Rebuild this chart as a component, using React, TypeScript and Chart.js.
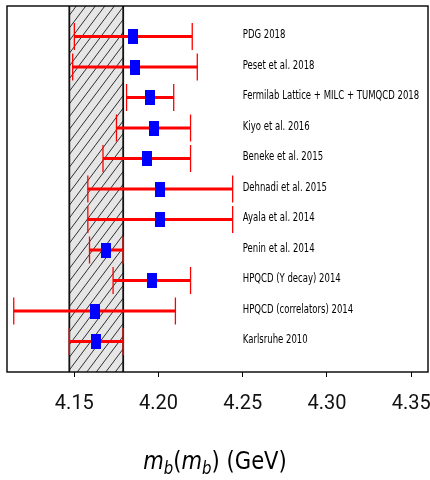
import React, { useEffect, useRef } from "react";
import { Chart, registerables } from "chart.js";

Chart.register(...registerables);

// ---- data ----
const studies = [
  "PDG 2018",
  "Peset et al. 2018",
  "Fermilab Lattice + MILC + TUMQCD 2018",
  "Kiyo et al. 2016",
  "Beneke et al. 2015",
  "Dehnadi et al. 2015",
  "Ayala et al. 2014",
  "Penin et al. 2014",
  "HPQCD (Y decay) 2014",
  "HPQCD (correlators) 2014",
  "Karlsruhe 2010",
];
const central = [4.185, 4.186, 4.195, 4.197, 4.193, 4.201, 4.201, 4.169, 4.196, 4.162, 4.163];
const lower = [4.150, 4.149, 4.181, 4.175, 4.167, 4.158, 4.158, 4.159, 4.173, 4.114, 4.147];
const upper = [4.220, 4.223, 4.209, 4.219, 4.219, 4.244, 4.244, 4.179, 4.219, 4.210, 4.179];
const bandLow = 4.147;
const bandHigh = 4.179;
const xTicks = [4.15, 4.2, 4.25, 4.3, 4.35];
const xMin = 4.11;
const xMax = 4.36;
const labelX = 4.25;

function scaledText(ctx: CanvasRenderingContext2D, text: string, x: number, y: number, font: string, sx: number) {
  ctx.save();
  ctx.font = font;
  ctx.translate(x, y);
  ctx.scale(sx, 1);
  ctx.textAlign = "left";
  ctx.textBaseline = "alphabetic";
  ctx.fillStyle = "#000";
  ctx.fillText(text, 0, 0);
  ctx.restore();
}

const customPlugin = {
  id: "custom",
  beforeDatasetsDraw(chart: any) {
    const { ctx, chartArea: a, scales } = chart;
    const x = scales.x;
    const y = scales.y;
    const bx0 = x.getPixelForValue(bandLow);
    const bx1 = x.getPixelForValue(bandHigh);
    const h = a.bottom - a.top;
    // hatched band
    ctx.save();
    ctx.fillStyle = "#e6e6e6";
    ctx.fillRect(bx0, a.top, bx1 - bx0, h);
    ctx.beginPath();
    ctx.rect(bx0, a.top, bx1 - bx0, h);
    ctx.clip();
    ctx.strokeStyle = "#1a1a1a";
    ctx.lineWidth = 0.9;
    const slope = 0.75;
    for (let sx = bx0 - h * slope - 12; sx < bx1 + 12; sx += 9.5) {
      ctx.beginPath();
      ctx.moveTo(sx, a.bottom);
      ctx.lineTo(sx + h * slope, a.top);
      ctx.stroke();
    }
    ctx.restore();
    ctx.save();
    ctx.strokeStyle = "#111";
    ctx.lineWidth = 1.8;
    [bx0, bx1].forEach((px) => {
      ctx.beginPath();
      ctx.moveTo(px, a.top);
      ctx.lineTo(px, a.bottom);
      ctx.stroke();
    });
    ctx.restore();
    // error bars
    ctx.save();
    for (let i = 0; i < central.length; i++) {
      const yy = y.getPixelForValue(i + 1);
      const xl = x.getPixelForValue(lower[i]);
      const xh = x.getPixelForValue(upper[i]);
      ctx.strokeStyle = "#ff0000";
      ctx.lineWidth = 3;
      ctx.beginPath();
      ctx.moveTo(xl, yy);
      ctx.lineTo(xh, yy);
      ctx.stroke();
      ctx.lineWidth = 1.3;
      [xl, xh].forEach((px) => {
        ctx.beginPath();
        ctx.moveTo(px, yy - 13.5);
        ctx.lineTo(px, yy + 13.5);
        ctx.stroke();
      });
    }
    ctx.restore();
  },
  afterDraw(chart: any) {
    const { ctx, chartArea: a, scales } = chart;
    const x = scales.x;
    const y = scales.y;
    // frame
    ctx.save();
    ctx.strokeStyle = "#000";
    ctx.lineWidth = 1.4;
    ctx.strokeRect(a.left, a.top, a.right - a.left, a.bottom - a.top);
    ctx.restore();
    // study labels
    const lx = x.getPixelForValue(labelX);
    for (let i = 0; i < studies.length; i++) {
      const yy = y.getPixelForValue(i + 1);
      scaledText(ctx, studies[i], lx, yy + 1.5, '12px "DejaVu Sans"', 0.71);
    }
    // axis title m_b(m_b) (GeV)
    const big = 24;
    const sub = 17;
    const pieces = [
      { t: "m", f: `italic ${big}px "DejaVu Sans"`, dy: 0 },
      { t: "b", f: `italic ${sub}px "DejaVu Sans"`, dy: 5 },
      { t: "(", f: `${big}px "DejaVu Sans"`, dy: 0 },
      { t: "m", f: `italic ${big}px "DejaVu Sans"`, dy: 0 },
      { t: "b", f: `italic ${sub}px "DejaVu Sans"`, dy: 5 },
      { t: ") (GeV)", f: `${big}px "DejaVu Sans"`, dy: 0 },
    ];
    const sx = 0.88;
    ctx.save();
    let total = 0;
    const widths = pieces.map((p) => {
      ctx.font = p.f;
      const w = ctx.measureText(p.t).width * sx;
      total += w;
      return w;
    });
    ctx.restore();
    let cx = (a.left + a.right) / 2 - 2.5 - total / 2;
    const base = 469;
    pieces.forEach((p, i) => {
      scaledText(ctx, p.t, cx, base + p.dy, p.f, sx);
      cx += widths[i];
    });
  },
};

export default function App() {
  const ref = useRef<HTMLCanvasElement>(null);
  useEffect(() => {
    const marker = document.createElement("canvas");
    marker.width = 10;
    marker.height = 15;
    const mctx = marker.getContext("2d")!;
    mctx.fillStyle = "#0000ff";
    mctx.fillRect(0, 0, 10, 15);

    const chart = new Chart(ref.current!, {
      type: "scatter",
      data: {
        datasets: [
          {
            data: central.map((v, i) => ({ x: v, y: i + 1 })),
            pointStyle: marker as any,
            backgroundColor: "#0000ff",
            borderColor: "#0000ff",
          },
        ],
      },
      options: {
        animation: false,
        responsive: false,
        devicePixelRatio: 1,
        layout: { padding: { left: 7, right: 0, top: 6, bottom: 0 } },
        plugins: { legend: { display: false }, tooltip: { enabled: false } },
        scales: {
          x: {
            type: "linear",
            min: xMin,
            max: xMax,
            afterBuildTicks: (scale: any) => {
              scale.ticks = xTicks.map((v) => ({ value: v }));
            },
            afterFit: (scale: any) => {
              scale.height = 108;
              scale.paddingLeft = 0;
              scale.paddingRight = 0;
            },
            border: { display: false },
            grid: {
              drawOnChartArea: false,
              drawTicks: true,
              tickLength: 5,
              color: "#000",
              lineWidth: 1,
            },
            ticks: {
              padding: 15,
              color: "#111",
              maxRotation: 0,
              autoSkip: false,
              font: { family: "Roboto", size: 20 },
              callback: (v: any) => Number(v).toFixed(2),
            },
          },
          y: {
            type: "linear",
            display: false,
            min: 0,
            max: 12,
            reverse: true,
          },
        },
      },
      plugins: [customPlugin],
    });
    return () => chart.destroy();
  }, []);
  return (
    <div style={{ position: "fixed", left: 0, top: 0, width: 430, height: 480, overflow: "hidden", background: "#fff" }}>
      <canvas ref={ref} width={433} height={480} style={{ display: "block" }} />
    </div>
  );
}
